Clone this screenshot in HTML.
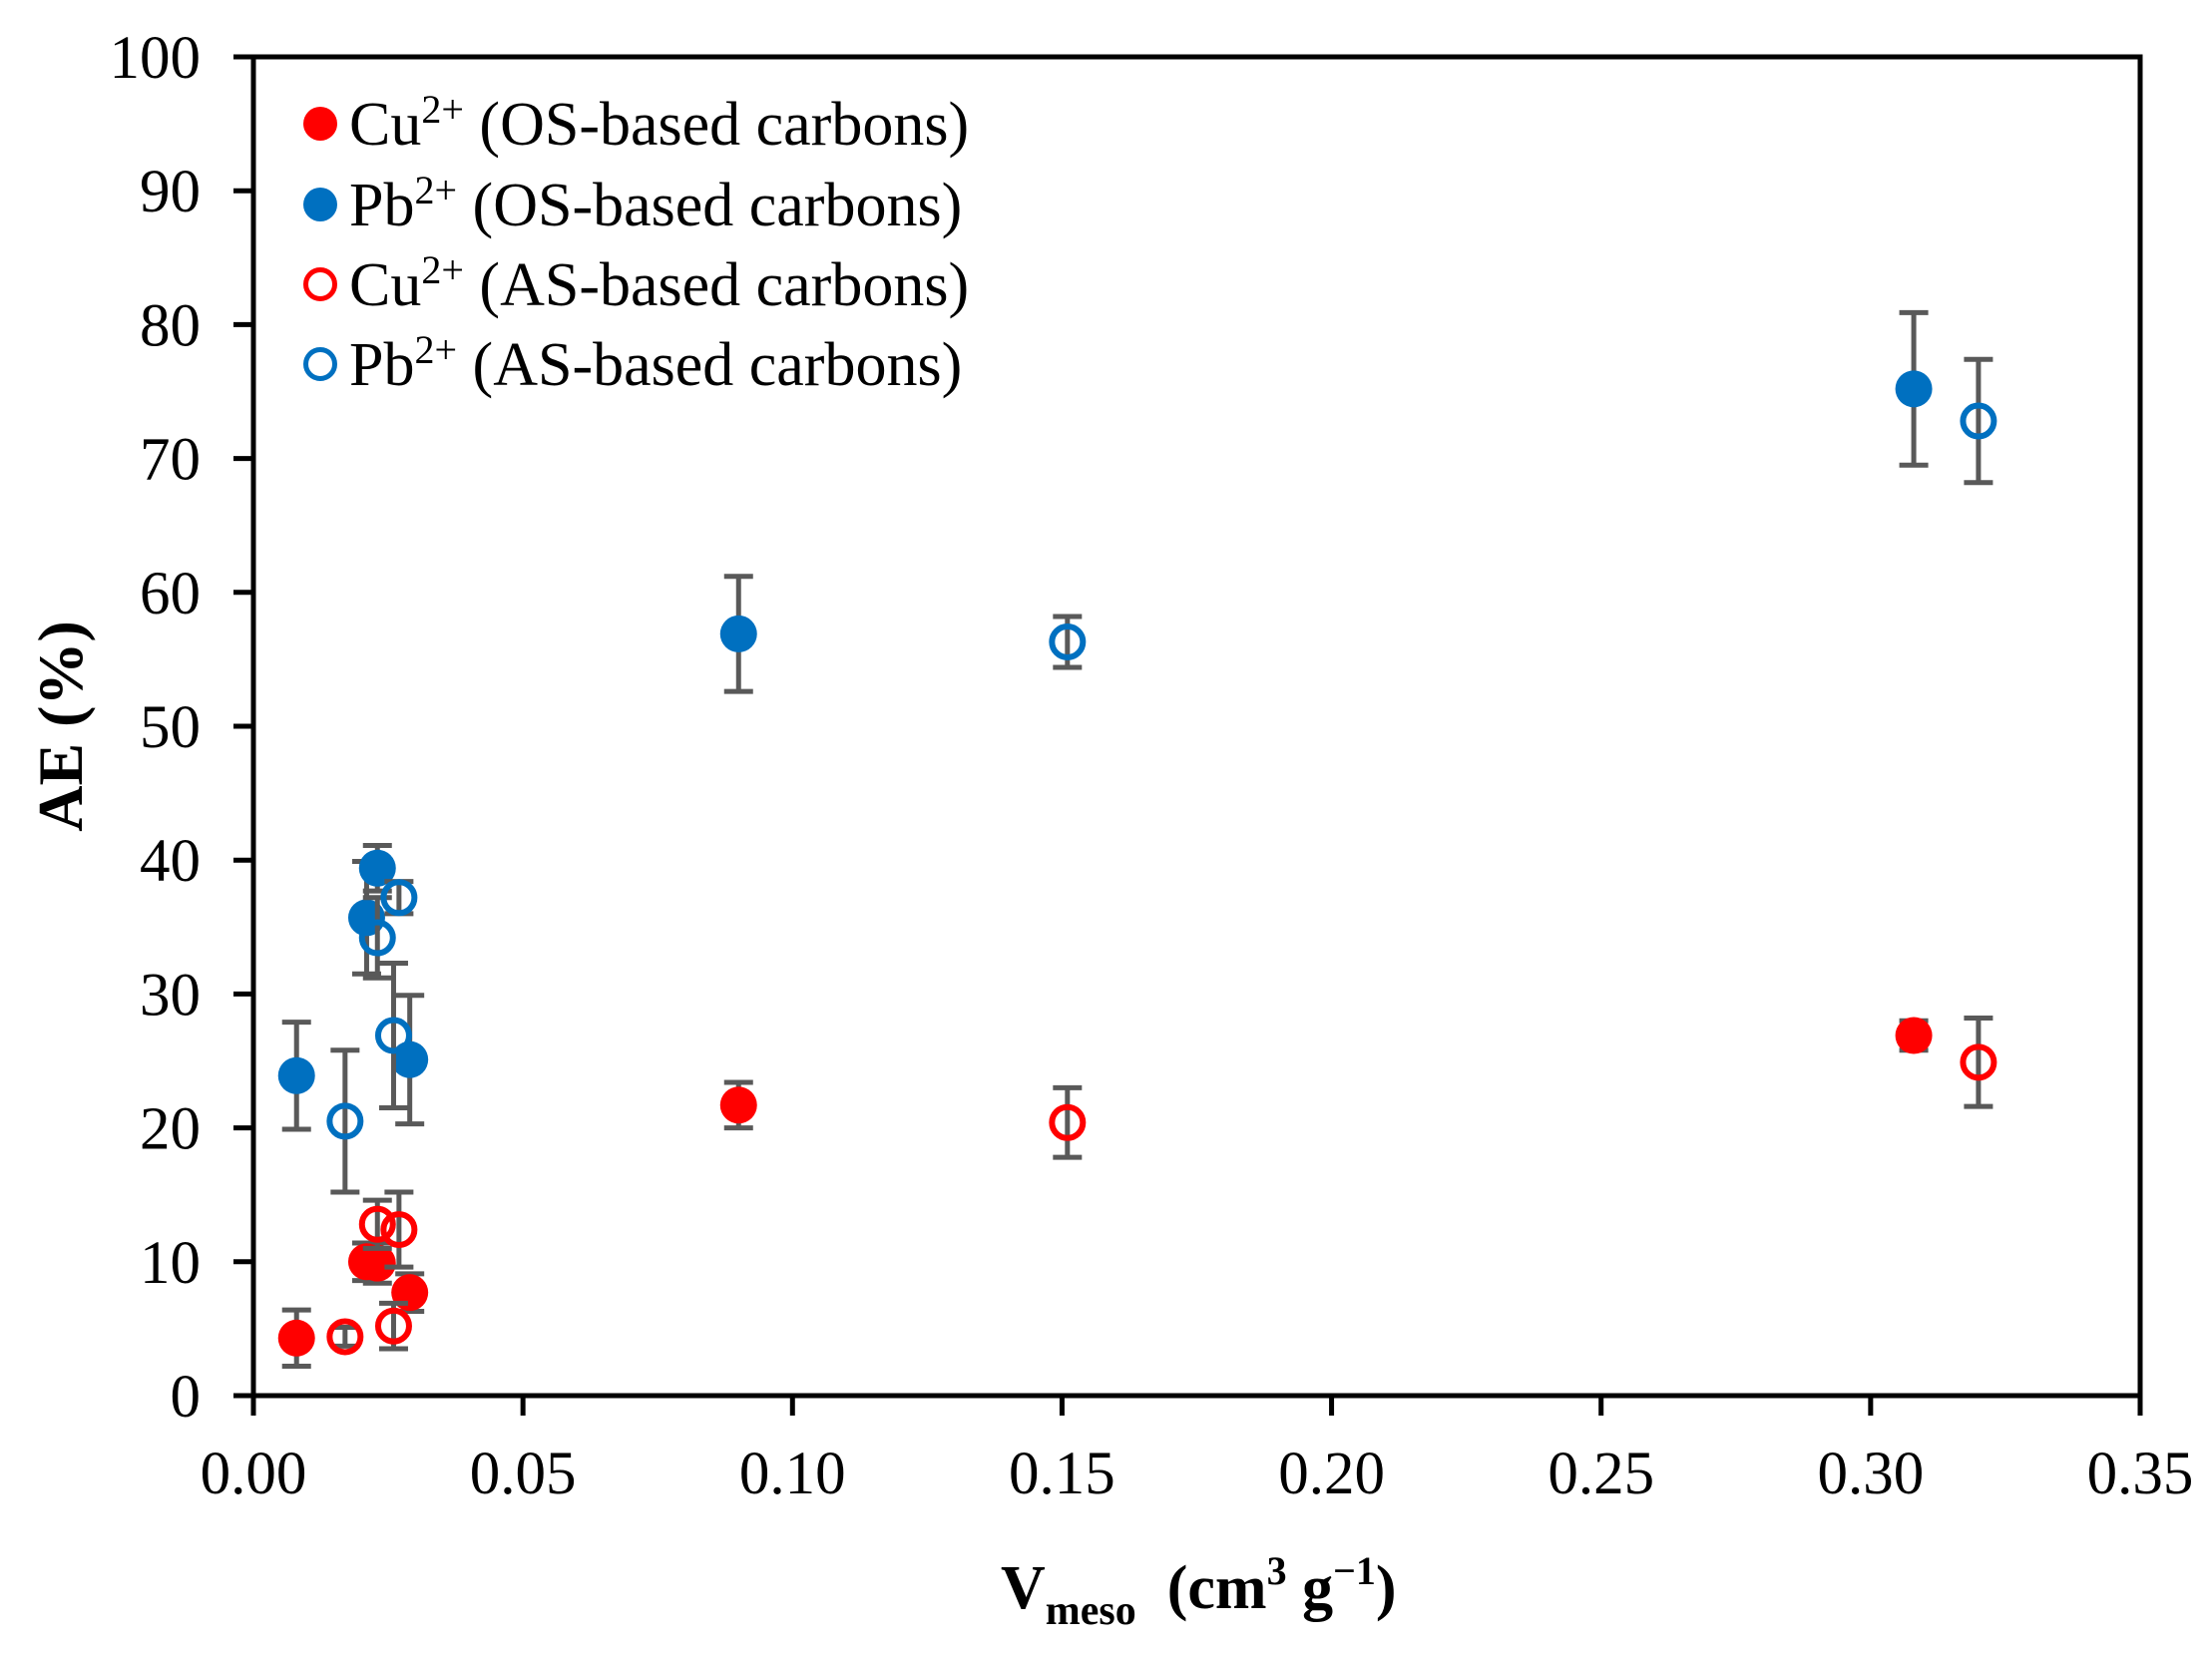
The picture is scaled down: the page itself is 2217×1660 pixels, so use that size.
<!DOCTYPE html>
<html><head><meta charset="utf-8"><style>
html,body{margin:0;padding:0;background:#fff;}
svg{display:block;font-family:"Liberation Serif",serif;}
</style></head><body>
<svg id="chart" width="2217" height="1660" viewBox="0 0 2217 1660">
<g id="grid"></g><g id="marks"></g><g id="axes"></g><g id="legend"></g>
</svg>
<script>
const xTicks=["0.00","0.05","0.10","0.15","0.20","0.25","0.30","0.35"];
const yTicks=["0","10","20","30","40","50","60","70","80","90","100"];
const cuOsX=[0.008,0.021,0.023,0.029,0.090,0.308];
const cuOsY=[4.3,10.0,9.9,7.7,21.7,26.9];
const cuOsE=[2.1,1.4,1.5,1.4,1.7,1.1];
const pbOsX=[0.008,0.021,0.023,0.029,0.090,0.308];
const pbOsY=[23.9,35.7,39.4,25.1,56.9,75.2];
const pbOsE=[4.0,4.2,1.7,4.8,4.3,5.7];
const cuAsX=[0.017,0.023,0.026,0.027,0.151,0.320];
const cuAsY=[4.4,12.8,5.2,12.4,20.4,24.9];
const cuAsE=[0.7,1.8,1.7,2.8,2.6,3.3];
const pbAsX=[0.017,0.023,0.026,0.027,0.151,0.320];
const pbAsY=[20.5,34.2,26.9,37.2,56.3,72.8];
const pbAsE=[5.3,3.0,5.4,1.2,1.9,4.6];

const NS="http://www.w3.org/2000/svg";
const X0=254,X1=2145,Y0=1399,Y1=57;
const sx=v=>X0+(v/0.35)*(X1-X0);
const sy=v=>Y0-(v/100)*(Y0-Y1);
function mk(tag,attrs,parent,txt){const e=document.createElementNS(NS,tag);for(const k in attrs)e.setAttribute(k,attrs[k]);if(txt!==undefined)e.textContent=txt;parent.appendChild(e);return e;}
const marks=document.getElementById('marks'),axes=document.getElementById('axes'),legend=document.getElementById('legend');
const RED="#ff0000",BLUE="#0070c0",EB="#595959";

function series(xs,ys,es,color,filled,name){
  const g=mk('g',{},marks);
  
  
  xs.forEach((x,i)=>{
    const cx=sx(x),t=sy(ys[i]+es[i]),b=sy(ys[i]-es[i]);
    const eb=mk('path',{d:`M${cx} ${t}V${b}M${cx-14.5} ${t}H${cx+14.5}M${cx-14.5} ${b}H${cx+14.5}`,stroke:EB,'stroke-width':5,fill:'none'},g);
    
    
  });
  xs.forEach((x,i)=>{
    const c=filled?mk('circle',{cx:sx(x),cy:sy(ys[i]),r:18.5,fill:color},g):mk('circle',{cx:sx(x),cy:sy(ys[i]),r:15.5,fill:'none',stroke:color,'stroke-width':6},g);
    
    
  });
}
series(pbOsX,pbOsY,pbOsE,BLUE,true,'pb-os');
series(pbAsX,pbAsY,pbAsE,BLUE,false,'pb-as');
series(cuOsX,cuOsY,cuOsE,RED,true,'cu-os');
series(cuAsX,cuAsY,cuAsE,RED,false,'cu-as');

const frame=mk('rect',{x:X0,y:Y1,width:X1-X0,height:Y0-Y1,fill:'none',stroke:'#000','stroke-width':5},axes);


yTicks.forEach((t,i)=>{
  const y=sy(+t);
  const l=mk('line',{x1:X0-20,x2:X0,y1:y,y2:y,stroke:'#000','stroke-width':5},axes);
  
  
  const tx=mk('text',{x:201,y:y+21,'text-anchor':'end','font-size':61},axes,t);
  
  
});
xTicks.forEach((t,i)=>{
  const x=sx(+t);
  const l=mk('line',{x1:x,x2:x,y1:Y0,y2:Y0+20,stroke:'#000','stroke-width':5},axes);
  
  
  const tx=mk('text',{x:x,y:1497,'text-anchor':'middle','font-size':61},axes,t);
  
  
});
const yt=mk('text',{x:0,y:0,transform:'translate(82,728) rotate(-90)','text-anchor':'middle','font-size':64,'font-weight':'bold'},axes,'AE  (%)');


const xt=mk('text',{x:1003,y:1612,'font-size':62,'font-weight':'bold'},axes);


xt.innerHTML='V<tspan font-size="42" dy="16">meso</tspan><tspan dy="-16" xml:space="preserve">  (cm</tspan><tspan font-size="40" dy="-24">3</tspan><tspan dy="24"> g</tspan><tspan font-size="40" dy="-24">−1</tspan><tspan dy="24">)</tspan>';

const legItems=[["Cu","OS",RED,true],["Pb","OS",BLUE,true],["Cu","AS",RED,false],["Pb","AS",BLUE,false]];
const legY=[124,205,285,365];
legItems.forEach((it,i)=>{
  const g=mk('g',{},legend);
  
  
  if(it[3])mk('circle',{cx:321,cy:legY[i],r:17,fill:it[2]},g);
  else mk('circle',{cx:321,cy:legY[i],r:14.5,fill:'none',stroke:it[2],'stroke-width':5},g);
  const t=mk('text',{x:350,y:legY[i]+21,'font-size':62},g);
  t.innerHTML=it[0]+'<tspan font-size="40" dy="-22">2+</tspan><tspan dy="22"> ('+it[1]+'-based carbons)</tspan>';
});
</script>
</body></html>
